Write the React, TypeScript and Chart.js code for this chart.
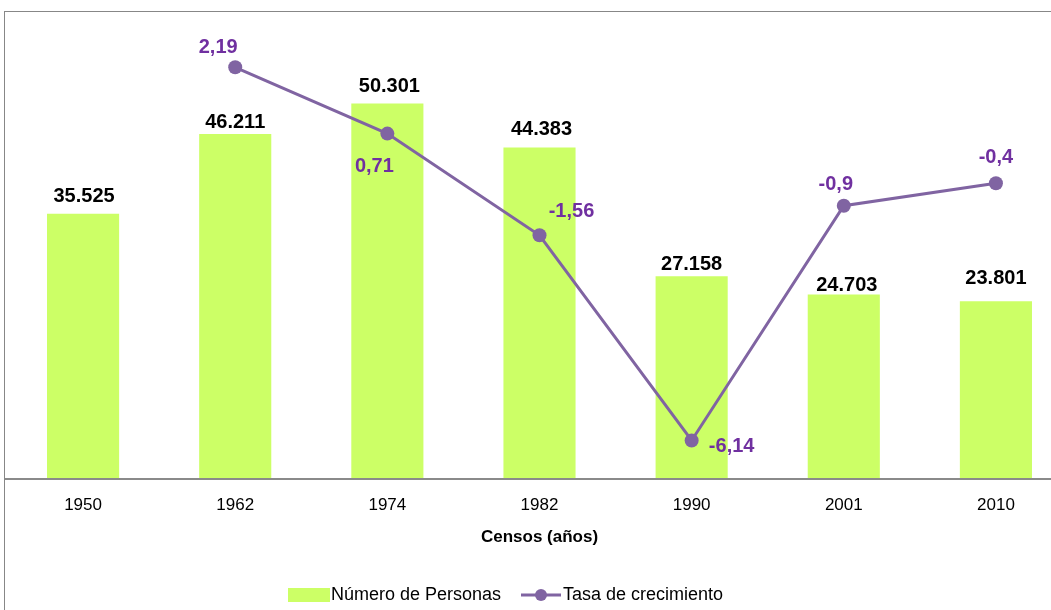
import React, { useEffect, useRef } from 'react';
import { Chart, registerables } from 'chart.js';

Chart.register(...registerables);

const categories = ['1950', '1962', '1974', '1982', '1990', '2001', '2010'];
const personas = [35525, 46211, 50301, 44383, 27158, 24703, 23801];
const tasa: (number | null)[] = [null, 2.19, 0.71, -1.56, -6.14, -0.9, -0.4];
const seriesNames = ['Número de Personas', 'Tasa de crecimiento'];
const axisTitle = 'Censos (años)';

const barLabelOffsets = [[1, -17], [0, -11], [2, -17], [2, -18], [0, -12], [3, -9], [0, -23]];
const lineLabelOffsets: (number[] | null)[] = [null, [-17, -20], [-13, 33], [32, -24], [40, 6], [-8, -21], [0, -26]];

const FONT = '"Liberation Sans", Arial, sans-serif';
const BAR_COLOR = '#CCFF66';
const LINE_COLOR = '#8064A2';
const LABEL_PURPLE = '#7030A0';

const fmtThousands = (v: number) => String(v).replace(/\B(?=(\d{3})+(?!\d))/g, '.');
const fmtDecimal = (v: number) => String(v).replace('.', ',');

export default function App() {
  const ref = useRef<HTMLCanvasElement>(null);

  useEffect(() => {
    document.body.style.margin = '0';
    document.body.style.overflow = 'hidden';
    const canvas = ref.current;
    if (!canvas) return;

    const custom = {
      id: 'custom',
      beforeDatasetsDraw(chart: any) {
        const ctx = chart.ctx;
        ctx.save();
        ctx.strokeStyle = '#878787';
        ctx.lineWidth = 1;
        ctx.strokeRect(4.5, 11.5, chart.width + 10, chart.height + 10);
        ctx.restore();
      },
      afterDatasetsDraw(chart: any) {
        const ctx = chart.ctx;
        const area = chart.chartArea;
        ctx.save();
        // x axis line
        ctx.strokeStyle = '#8a8a8a';
        ctx.lineWidth = 2;
        ctx.beginPath();
        ctx.moveTo(5, area.bottom);
        ctx.lineTo(chart.width, area.bottom);
        ctx.stroke();

        // bar labels
        const barMeta = chart.getDatasetMeta(0);
        ctx.font = `bold 20px ${FONT}`;
        ctx.fillStyle = '#000';
        ctx.textAlign = 'center';
        ctx.textBaseline = 'middle';
        barMeta.data.forEach((el: any, i: number) => {
          const off = barLabelOffsets[i];
          ctx.fillText(fmtThousands(personas[i]), el.x + off[0], el.y + off[1]);
        });

        // line labels
        const lineMeta = chart.getDatasetMeta(1);
        ctx.fillStyle = LABEL_PURPLE;
        lineMeta.data.forEach((el: any, i: number) => {
          const v = tasa[i];
          const off = lineLabelOffsets[i];
          if (v === null || !off) return;
          ctx.fillText(fmtDecimal(v), el.x + off[0], el.y + off[1]);
        });

        // legend
        const ly = 595;
        ctx.fillStyle = BAR_COLOR;
        ctx.fillRect(288, 588, 42, 14);
        ctx.fillStyle = '#000';
        ctx.font = `18px ${FONT}`;
        ctx.textAlign = 'left';
        ctx.fillText(seriesNames[0], 331, ly);
        ctx.strokeStyle = LINE_COLOR;
        ctx.lineWidth = 3;
        ctx.beginPath();
        ctx.moveTo(521, ly);
        ctx.lineTo(561, ly);
        ctx.stroke();
        ctx.fillStyle = LINE_COLOR;
        ctx.beginPath();
        ctx.arc(541, ly, 6, 0, Math.PI * 2);
        ctx.fill();
        ctx.fillStyle = '#000';
        ctx.fillText(seriesNames[1], 563, ly);
        ctx.restore();
      },
    };

    const chart = new Chart(canvas, {
      type: 'bar',
      data: {
        labels: categories,
        datasets: [
          {
            type: 'bar',
            label: seriesNames[0],
            data: personas,
            backgroundColor: BAR_COLOR,
            borderWidth: 0,
            yAxisID: 'y',
            order: 1,
            categoryPercentage: 1,
            barPercentage: 0.474,
          },
          {
            type: 'line',
            label: seriesNames[1],
            data: tasa,
            borderColor: LINE_COLOR,
            backgroundColor: LINE_COLOR,
            borderWidth: 3,
            pointRadius: 7,
            pointBorderWidth: 0,
            pointBackgroundColor: LINE_COLOR,
            yAxisID: 'y1',
            order: 0,
            spanGaps: false,
          } as any,
        ],
      },
      options: {
        responsive: false,
        animation: false,
        layout: { padding: { left: 7, right: 48, top: 31, bottom: 0 } },
        plugins: {
          legend: { display: false },
          tooltip: { enabled: false },
          title: { display: false },
        },
        scales: {
          x: {
            offset: true,
            grid: { display: false, drawTicks: false },
            border: { display: false },
            ticks: {
              color: '#000',
              font: { family: FONT, size: 17 },
              padding: 16,
              maxRotation: 0,
            },
            title: {
              display: true,
              text: axisTitle,
              color: '#000',
              font: { family: FONT, size: 17, weight: 'bold' },
              padding: { top: 0, bottom: 62 },
            },
            afterFit: (scale: any) => {
              scale.height = 131;
            },
          },
          y: { display: false, min: 0, max: 60000 },
          y1: { display: false, min: -7, max: 3 },
        },
      } as any,
      plugins: [custom],
    });

    return () => chart.destroy();
  }, []);

  return (
    <div style={{ position: 'fixed', left: 0, top: 0, width: 1051, height: 610, overflow: 'hidden', background: '#fff' }}>
      <canvas ref={ref} width={1120} height={610} style={{ position: 'absolute', left: 0, top: 0 }} />
    </div>
  );
}
